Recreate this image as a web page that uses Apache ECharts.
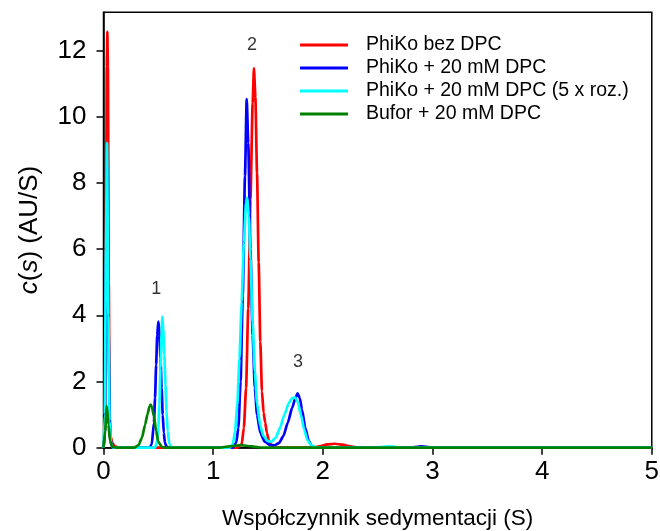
<!DOCTYPE html>
<html>
<head>
<meta charset="utf-8">
<script src="https://cdn.jsdelivr.net/npm/echarts@6/dist/echarts.min.js"></script>
<style>html,body{margin:0;padding:0;background:#fff}#c{width:660px;height:531px}</style>
</head>
<body>
<div id="c"></div>
<script>
// ---- data ----
const seriesNames = ['PhiKo bez DPC', 'PhiKo + 20 mM DPC', 'PhiKo + 20 mM DPC (5 x roz.)', 'Bufor + 20 mM DPC'];
const seriesColors = ['#ff0000', '#0000ff', '#00ffff', '#008000'];

const redX = [0, 0.012, 0.022, 0.03, 0.035, 0.04, 0.048, 0.056, 0.065, 0.08, 0.1, 0.14, 1.22, 1.26, 1.28, 1.3, 1.32, 1.34, 1.36, 1.372, 1.385, 1.4, 1.415, 1.43, 1.445, 1.46, 1.475, 1.49, 1.51, 1.54, 1.58, 1.92, 1.98, 2.04, 2.11, 2.18, 2.25, 2.33, 5];
const redY = [0, 0.4, 5.0, 11.5, 12.57, 11.5, 5.0, 1.0, 0.35, 0.15, 0.05, 0, 0, 0.1, 0.6, 1.8, 4.2, 7.5, 10.4, 11.46, 10.6, 8.3, 5.6, 3.2, 1.7, 1.05, 0.75, 0.45, 0.18, 0.04, 0, 0, 0.05, 0.1, 0.12, 0.09, 0.04, 0, 0];

const blueX = [0, 0.012, 0.022, 0.033, 0.046, 0.06, 0.08, 0.42, 0.44, 0.46, 0.47, 0.48, 0.49, 0.5, 0.51, 0.52, 0.53, 0.54, 0.55, 0.56, 0.58, 1.18, 1.21, 1.23, 1.25, 1.27, 1.29, 1.306, 1.32, 1.34, 1.36, 1.38, 1.4, 1.43, 1.47, 1.52, 1.56, 1.6, 1.64, 1.68, 1.72, 1.75, 1.77, 1.79, 1.81, 1.84, 1.87, 1.9, 1.94, 2.78, 2.9, 3.02, 5];
const blueY = [0, 0.4, 5.0, 8.5, 3.5, 0.3, 0, 0, 0.1, 0.75, 1.5, 2.5, 3.4, 3.81, 3.5, 2.7, 1.8, 1.0, 0.45, 0.15, 0, 0, 0.15, 0.6, 2.0, 4.6, 8.2, 10.53, 9.2, 6.0, 3.4, 1.8, 1.0, 0.45, 0.18, 0.08, 0.07, 0.14, 0.35, 0.75, 1.2, 1.5, 1.64, 1.5, 1.15, 0.6, 0.22, 0.05, 0, 0, 0.04, 0, 0];

const cyanX = [0, 0.012, 0.022, 0.032, 0.045, 0.055, 0.07, 0.09, 0.47, 0.49, 0.5, 0.51, 0.52, 0.53, 0.536, 0.545, 0.555, 0.565, 0.575, 0.585, 0.6, 0.62, 1.15, 1.18, 1.2, 1.22, 1.24, 1.26, 1.28, 1.3, 1.311, 1.325, 1.34, 1.36, 1.38, 1.4, 1.43, 1.46, 1.5, 1.53, 1.57, 1.61, 1.65, 1.69, 1.72, 1.746, 1.77, 1.8, 1.83, 1.86, 1.9, 1.95, 2.45, 2.6, 2.75, 5];
const cyanY = [0, 1.0, 6.0, 9.2, 4.0, 0.8, 0.1, 0, 0, 0.2, 0.6, 1.3, 2.4, 3.5, 3.96, 3.6, 2.8, 1.9, 1.1, 0.5, 0.12, 0, 0, 0.12, 0.5, 1.3, 2.7, 4.4, 6.2, 7.4, 7.55, 7.0, 5.7, 3.8, 2.3, 1.35, 0.65, 0.35, 0.2, 0.18, 0.3, 0.6, 1.0, 1.35, 1.5, 1.52, 1.4, 1.0, 0.55, 0.22, 0.06, 0, 0, 0.04, 0, 0];

const greenX = [0, 0.015, 0.03, 0.045, 0.06, 0.08, 0.12, 0.28, 0.32, 0.35, 0.38, 0.4, 0.42, 0.43, 0.44, 0.46, 0.48, 0.5, 0.53, 0.56, 1.05, 1.15, 1.25, 1.35, 1.45, 5];
const greenY = [0, 0.5, 1.26, 0.7, 0.2, 0.03, 0, 0, 0.08, 0.3, 0.7, 1.0, 1.25, 1.3, 1.25, 0.95, 0.5, 0.18, 0.03, 0, 0, 0.04, 0.08, 0.04, 0, 0];

const xTicks = [0, 1, 2, 3, 4, 5];
const yTicks = [0, 2, 4, 6, 8, 10, 12];

const annText = ['1', '2', '3'];
const annX = [0.48, 1.354, 1.774];
const annY = [4.8, 12.17, 2.6];

const xTitle = 'Współczynnik sedymentacji (S)';

// ---- build ----
const FONT = 'Liberation Sans';
function pairs(xs, ys) { return xs.map((x, i) => [x, ys[i]]); }
const allData = [pairs(redX, redY), pairs(blueX, blueY), pairs(cyanX, cyanY), pairs(greenX, greenY)];

const series = allData.map((d, i) => ({
  name: seriesNames[i],
  type: 'line',
  data: d,
  showSymbol: false,
  smooth: 0.2,
  smoothMonotone: 'x',
  lineStyle: { color: seriesColors[i], width: 2.7 },
  itemStyle: { color: seriesColors[i] },
  z: 2 + i,
  animation: false
}));
series.push({
  type: 'scatter',
  data: annX.map((x, i) => ({ value: [x, annY[i]], label: { formatter: annText[i] } })),
  symbolSize: 0,
  silent: true,
  label: { show: true, position: 'inside', color: '#000', fontSize: 18, fontFamily: FONT },
  animation: false,
  z: 10
});

const chart = echarts.init(document.getElementById('c'), null, { renderer: 'canvas' });
chart.setOption({
  backgroundColor: '#fff',
  animation: false,
  grid: { left: 103.5, right: 8.2, top: 12.3, bottom: 83.3, show: true, borderColor: '#000', borderWidth: 1.5, containLabel: false, outerBoundsMode: 'none' },
  legend: {
    orient: 'vertical',
    left: 295,
    top: 30,
    itemWidth: 48,
    itemHeight: 3,
    itemGap: 3,
    icon: 'rect',
    data: seriesNames,
    textStyle: { fontFamily: FONT, fontSize: 19.5, color: '#000', padding: [0, 0, 0, 13] }
  },
  xAxis: {
    type: 'value', min: 0, max: 5, interval: 1,
    name: xTitle, nameLocation: 'middle', nameGap: 60,
    nameTextStyle: { fontFamily: FONT, fontSize: 22.5, color: '#000' },
    axisLine: { show: true, lineStyle: { color: '#000', width: 1.5 } },
    axisTick: { show: true, length: 7, lineStyle: { color: '#000', width: 1.5 }, customValues: xTicks },
    axisLabel: { fontFamily: FONT, fontSize: 26, color: '#000', margin: 11, customValues: xTicks },
    splitLine: { show: false }
  },
  yAxis: {
    type: 'value', min: 0, max: 13.15, interval: 2,
    name: '{i|c}({i|s}) (AU/S)', nameLocation: 'middle', nameGap: 61, nameRotate: 90,
    nameTextStyle: { fontFamily: FONT, fontSize: 26, color: '#000', rich: { i: { fontFamily: FONT, fontSize: 26, fontStyle: 'italic', color: '#000' } } },
    axisLine: { show: true, lineStyle: { color: '#000', width: 1.5 } },
    axisTick: { show: true, length: 7, lineStyle: { color: '#000', width: 1.5 }, customValues: yTicks },
    axisLabel: { fontFamily: FONT, fontSize: 26, color: '#000', margin: 17, customValues: yTicks },
    splitLine: { show: false }
  },
  series: series
});
</script>
</body>
</html>
